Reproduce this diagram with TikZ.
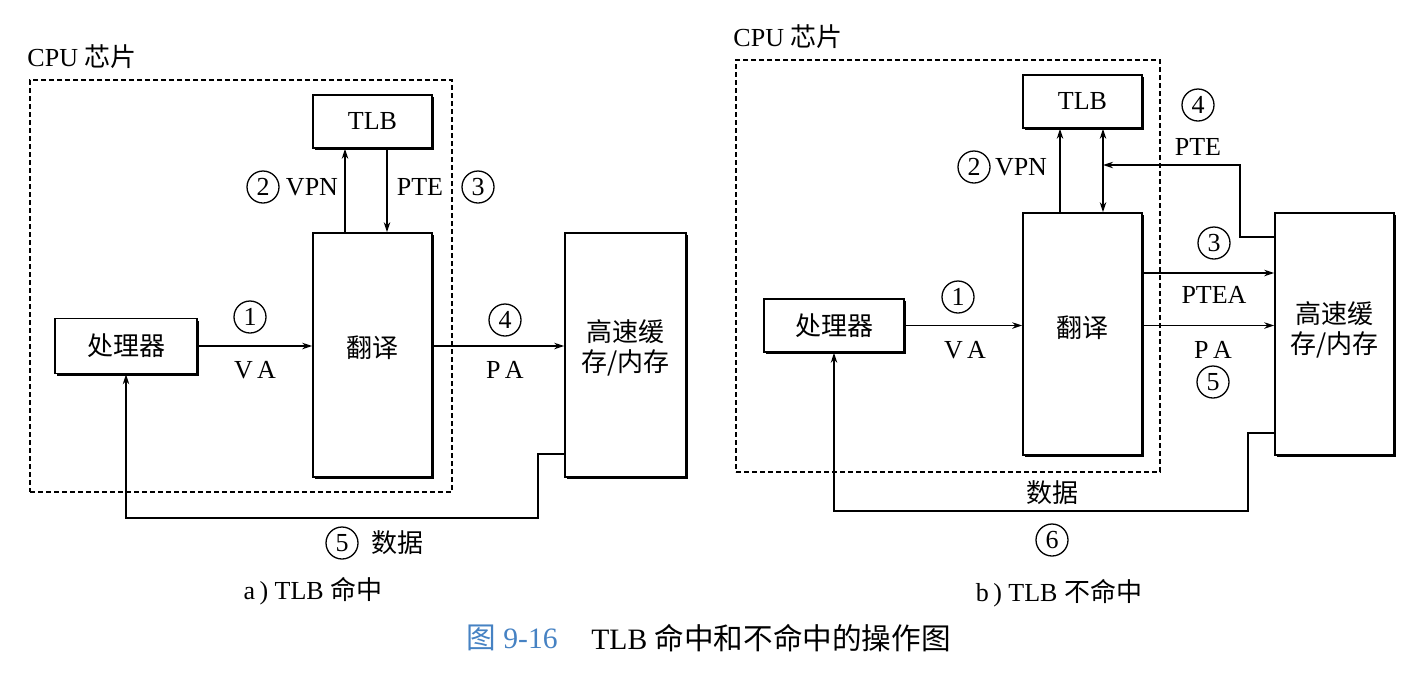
\documentclass[tikz,border=0pt]{standalone}
\usepackage{fontspec}
\setmainfont{Liberation Serif}
\newfontfamily\cjk{Noto Sans CJK SC}
\newcommand\zh[1]{{\cjk #1}}
\usetikzlibrary{arrows.meta,shadows,calc}
\definecolor{capblue}{RGB}{70,130,195}
\begin{document}
\begin{tikzpicture}[x=0.5pt,y=-0.5pt,
  font=\fontsize{13}{15}\selectfont,
  blk/.style={draw, fill=white, line width=0.75pt, inner sep=0pt,
    drop shadow={shadow xshift=1.1pt,shadow yshift=-1.1pt,fill=black,opacity=1}},
  num/.style={circle,draw,line width=0.65pt,minimum size=16pt,inner sep=0pt},
  chip/.style={draw, dash pattern=on 2.4pt off 1.6pt, line width=0.85pt, inner sep=0pt},
  conn/.style={line width=0.8pt},
  arr/.style={conn,-{Stealth[length=5pt,width=3.2pt]}},
  dbl/.style={conn,{Stealth[length=5pt,width=3.2pt]}-{Stealth[length=5pt,width=3.2pt]}},
  txt/.style={inner sep=0pt}]
\useasboundingbox (0,0) rectangle (1424,682);

% ---------- left: TLB hit ----------
\node[txt] (cpuA) at (82,57) {CPU \zh{芯片}};
\node[chip, minimum width=211pt, minimum height=206pt] (chipA) at (241,286) {};
\node[blk, minimum width=59.5pt, minimum height=26.5pt] (tlbA) at (372.5,121.5) {TLB};
\node[blk, minimum width=59.5pt, minimum height=122pt,
  label={[yshift=3.5pt]center:\zh{翻译}}] (trA) at (372.5,355) {};
\node[blk, minimum width=71pt, minimum height=27.5pt] (procA) at (126,346) {\zh{处理器}};
\node[blk, minimum width=60.5pt, minimum height=122pt,
  label={[yshift=3.5pt,align=center]center:{\zh{高速缓}\\\zh{存/内存}}}] (memA) at (625.5,355) {};

\draw[arr] (procA.east) -- (procA.east -| trA.west);
\draw[arr] ([xshift=-13.75pt]trA.north) -- ([xshift=-13.75pt]trA.north |- tlbA.south);
\draw[arr] ([xshift=7.25pt]tlbA.south) -- ([xshift=7.25pt]tlbA.south |- trA.north);
\draw[arr] (trA.east |- procA) -- (memA.west |- procA);
\coordinate (dA) at (538,518);
\draw[arr] ([yshift=-49.5pt]memA.west) -| (dA) -| (procA.south);

\node[num] (n1A) at (250,317) {1};
\node[txt] (vaA) at (255,370) {V\,A};
\node[num] (n2A) at (263,187) {2};
\node[txt] (vpnA) at (312,187) {VPN};
\node[txt] (pteA) at (420,187) {PTE};
\node[num] (n3A) at (478,187) {3};
\node[num] (n4A) at (505,320) {4};
\node[txt] (paA) at (505,370) {P\,A};
\node[num] (n5A) at (342,543) {5};
\node[txt] (dataA) at (397,543) {\zh{数据}};
\node[txt] (capA) at (313,591) {a\,)\ TLB \zh{命中}};

% ---------- right: TLB miss ----------
\node[txt] (cpuB) at (788,37) {CPU \zh{芯片}};
\node[chip, minimum width=212pt, minimum height=206pt] (chipB) at (948,266) {};
\node[blk, minimum width=59.5pt, minimum height=26.5pt] (tlbB) at (1082.5,101.5) {TLB};
\node[blk, minimum width=59.5pt, minimum height=121pt,
  label={[yshift=3pt]center:\zh{翻译}}] (trB) at (1082.5,334) {};
\node[blk, minimum width=70pt, minimum height=26.5pt] (procB) at (834,325.5) {\zh{处理器}};
\node[blk, minimum width=59.5pt, minimum height=121pt,
  label={[yshift=2pt,align=center]center:{\zh{高速缓}\\\zh{存/内存}}}] (memB) at (1334.5,334) {};

\draw[arr] (procB.east) -- (procB.east -| trB.west);
\draw[arr] ([xshift=-11.25pt]trB.north) -- ([xshift=-11.25pt]trB.north |- tlbB.south);
\draw[dbl] ([xshift=10.25pt]tlbB.south) -- ([xshift=10.25pt]tlbB.south |- trB.north);
\draw[arr] (trB.east |- procB) -- (memB.west |- procB);
\draw[arr] ([yshift=30.5pt]trB.east) -- ([yshift=30.5pt]trB.east -| memB.west);
\coordinate (pB) at (1240,165);
\coordinate (tx) at ([xshift=10.25pt]tlbB.south);
\draw[arr] ([yshift=48.5pt]memB.west) -| (pB) -- (pB -| tx);
\coordinate (dB) at (1248,511);
\draw[arr] ([yshift=-49.5pt]memB.west) -| (dB) -| (procB.south);

\node[num] (n1B) at (958,297) {1};
\node[txt] (vaB) at (965,350) {V\,A};
\node[num] (n2B) at (974,167) {2};
\node[txt] (vpnB) at (1021,167) {VPN};
\node[num] (n4B) at (1198,105) {4};
\node[txt] (pteB) at (1198,147) {PTE};
\node[num] (n3B) at (1214,243) {3};
\node[txt] (pteaB) at (1214,295) {PTEA};
\node[txt] (paB) at (1213,350) {P\,A};
\node[num] (n5B) at (1213,382) {5};
\node[txt] (dataB) at (1052,493) {\zh{数据}};
\node[num] (n6B) at (1052,540) {6};
\node[txt] (capB) at (1059,593) {b\,)\ TLB \zh{不命中}};

% ---------- figure caption ----------
\node[txt, font=\fontsize{14.8}{17}\selectfont, text=capblue] (figno) at (512,638) {\zh{图} 9-16};
\node[txt, font=\fontsize{14.8}{17}\selectfont] (figtitle) at (771,638) {TLB \zh{命中和不命中的操作图}};
\end{tikzpicture}
\end{document}
